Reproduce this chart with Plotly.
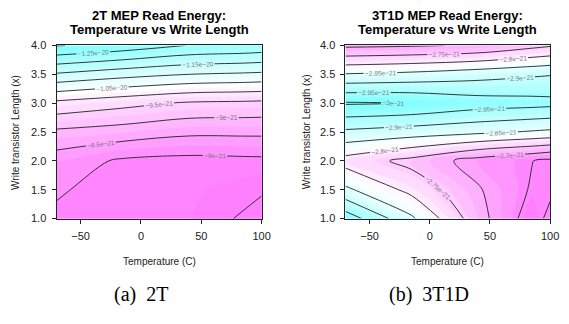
import plotly.graph_objects as go

# ---- data ----
temps = [-70, -15, 40, 85, 100]                    # Temperature (C)
lengths = [1.0, 1.5, 2.0, 2.5, 3.0, 3.5, 4.0]      # Write transistor length (x)

# rows follow `lengths`, columns follow `temps`
energy_2t = [
    [-7.92e-21, -7.75e-21, -7.76e-21, -7.44e-21, -7.32e-21],
    [-8.05e-21, -7.81e-21, -7.80e-21, -7.65e-21, -7.55e-21],
    [-8.26e-21, -7.93e-21, -7.86e-21, -7.89e-21, -7.90e-21],
    [-8.90e-21, -8.77e-21, -8.60e-21, -8.60e-21, -8.60e-21],
    [-9.87e-21, -9.65e-21, -9.44e-21, -9.40e-21, -9.38e-21],
    [-11.44e-21, -11.19e-21, -11.00e-21, -10.93e-21, -10.90e-21],
    [-13.03e-21, -12.80e-21, -12.48e-21, -12.40e-21, -12.35e-21],
]
energy_3t1d = [
    [-2.980e-21, -2.858e-21, -2.720e-21, -2.625e-21, -2.665e-21],
    [-2.860e-21, -2.785e-21, -2.705e-21, -2.645e-21, -2.640e-21],
    [-2.780e-21, -2.735e-21, -2.680e-21, -2.651e-21, -2.639e-21],
    [-2.890e-21, -2.875e-21, -2.860e-21, -2.845e-21, -2.840e-21],
    [-3.005e-21, -2.999e-21, -2.975e-21, -2.968e-21, -2.965e-21],
    [-2.853e-21, -2.863e-21, -2.880e-21, -2.893e-21, -2.897e-21],
    [-2.690e-21, -2.695e-21, -2.705e-21, -2.735e-21, -2.745e-21],
]

x_ticks = [-50, 0, 50, 100]
y_ticks = [1.0, 1.5, 2.0, 2.5, 3.0, 3.5, 4.0]
titles = ["2T MEP Read Energy:", "3T1D MEP Read Energy:"]
subtitle = "Temperature vs Write Length"
captions = ["(a)\u00a0\u00a02T", "(b)\u00a0\u00a03T1D"]

# the page body has an 8px margin, so the figure is drawn 8px in from the window edge
OFF = 8
W, H = 569 - OFF, 324 - OFF
CM = [[0, "#80FFFF"], [0.5, "#FFFFFF"], [1, "#FF80FF"]]
SANS = "Liberation Sans, Arial, sans-serif"


def px(xp):
    return (xp - OFF) / W


def py(yp):
    return 1 - (yp - OFF) / H


fig = go.Figure()


def fill_trace(z, xa, ya, lo, hi, step, zmin, zmax):
    return go.Contour(
        x=temps, y=lengths, z=z, xaxis=xa, yaxis=ya,
        colorscale=CM, zmin=zmin, zmax=zmax, showscale=False,
        autocontour=False,
        contours=dict(coloring="fill", start=lo, end=hi, size=step, showlines=False),
        line=dict(width=0), hoverinfo="skip",
    )


def line_trace(z, xa, ya, lo, hi, step, labels):
    return go.Contour(
        x=temps, y=lengths, z=z, xaxis=xa, yaxis=ya,
        showscale=False, autocontour=False,
        contours=dict(coloring="none", start=lo, end=hi, size=step,
                      showlabels=labels, labelformat=".3~e",
                      labelfont=dict(size=6.5, color="#777777", family=SANS)),
        line=dict(color="#222222", width=0.9), hoverinfo="skip",
    )


# left: 2T
fig.add_trace(fill_trace(energy_2t, "x", "y", -13.0e-21, -7.25e-21, 0.25e-21, -13.0e-21, -7.6e-21))
fig.add_trace(line_trace(energy_2t, "x", "y", -13.0e-21, -10.0e-21, 1e-21, False))
fig.add_trace(line_trace(energy_2t, "x", "y", -7.5e-21, -7.5e-21, 1e-21, False))
fig.add_trace(line_trace(energy_2t, "x", "y", -12.5e-21, -10.5e-21, 1e-21, True))
fig.add_trace(line_trace(energy_2t, "x", "y", -9.5e-21, -8.0e-21, 0.5e-21, True))

# right: 3T1D
fig.add_trace(fill_trace(energy_3t1d, "x2", "y2", -3.0e-21, -2.62e-21, 0.02e-21, -3.0e-21, -2.635e-21))
fig.add_trace(line_trace(energy_3t1d, "x2", "y2", -3.0e-21, -2.65e-21, 0.05e-21, True))

x_dom = [[57.3, 265.7], [351.0, 559.0]]
y_dom = [py(220.7), py(40.7)]

axis_common = dict(showline=True, mirror=True, linecolor="#222222", linewidth=1,
                   showgrid=False, zeroline=False, ticks="outside", ticklen=4,
                   tickcolor="#222222", ticklabeloverflow="allow",
                   tickfont=dict(size=11, family=SANS, color="#222222"))

fig.update_layout(
    width=W, height=H, margin=dict(l=0, r=0, t=0, b=0),
    paper_bgcolor="white", plot_bgcolor="white", showlegend=False,
    xaxis=dict(domain=[px(x_dom[0][0]), px(x_dom[0][1])], range=[-70, 100],
               tickvals=x_ticks, anchor="y", ticklabelstandoff=3, **axis_common),
    yaxis=dict(domain=y_dom, range=[1, 4], tickvals=y_ticks, tickformat=".1f",
               anchor="x", ticklabelstandoff=3, **axis_common),
    xaxis2=dict(domain=[px(x_dom[1][0]), px(x_dom[1][1])], range=[-70, 100],
                tickvals=x_ticks, anchor="y2", ticklabelstandoff=3, **axis_common),
    yaxis2=dict(domain=y_dom, range=[1, 4], tickvals=y_ticks, tickformat=".1f",
                anchor="x2", ticklabelstandoff=3, **axis_common),
)

ann = []
for i in range(2):
    cx = (x_dom[i][0] + x_dom[i][1]) / 2
    ann.append(dict(text="<b>" + titles[i] + "</b>", x=px(cx), y=py(9.5), xref="paper", yref="paper",
                    showarrow=False, xanchor="center", yanchor="middle",
                    font=dict(size=13, family=SANS, color="black")))
    ann.append(dict(text="<b>" + subtitle + "</b>", x=px(cx), y=py(24), xref="paper", yref="paper",
                    showarrow=False, xanchor="center", yanchor="middle",
                    font=dict(size=13, family=SANS, color="black")))
    ann.append(dict(text="Temperature (C)", x=px(cx), y=py(265), xref="paper", yref="paper",
                    showarrow=False, xanchor="center", yanchor="middle",
                    font=dict(size=10, family=SANS, color="#222222")))
    ann.append(dict(text="Write transistor Length (x)", x=px([15, 311][i]), y=py(130.7),
                    xref="paper", yref="paper", textangle=-90,
                    showarrow=False, xanchor="center", yanchor="middle",
                    font=dict(size=10, family=SANS, color="#222222")))
    ann.append(dict(text=captions[i], x=px([143, 436][i]), y=py(300), xref="paper", yref="paper",
                    showarrow=False, xanchor="center", yanchor="middle",
                    font=dict(size=20, family="Liberation Serif, Times New Roman, serif",
                              color="black")))
fig.update_layout(annotations=ann)

fig.write_html("out.html")
